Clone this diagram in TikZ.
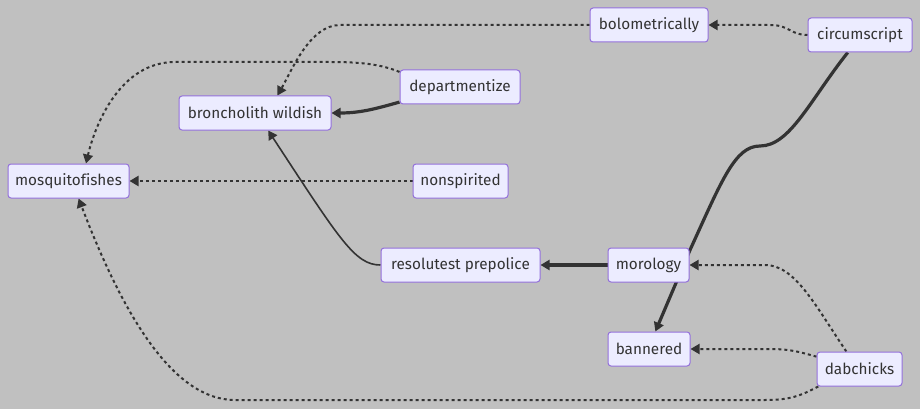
\documentclass[tikz,border=0pt]{standalone}
\usepackage{fontspec}
\setmainfont[Ligatures=NoCommon]{Fira Sans}
\usetikzlibrary{arrows.meta,backgrounds}
\definecolor{bg}{RGB}{192,192,192}
\definecolor{nfill}{RGB}{236,236,255}
\definecolor{nborder}{RGB}{147,112,219}
\definecolor{ink}{RGB}{51,51,51}
\tikzset{
  box/.style={draw=nborder, fill=nfill, line width=1pt, rounded corners=3pt,
    minimum height=34pt, inner sep=0pt, text=ink, font=\fontsize{15.3}{18}\selectfont},
  tip/.style={-{Triangle[length=9pt,width=10pt]}},
  dotedge/.style={tip, draw=ink, line width=2pt, dash pattern=on 3pt off 3pt},
  thickedge/.style={tip, draw=ink, line width=3.2pt},
  thinedge/.style={tip, draw=ink, line width=1.6pt},
}
\begin{document}
\begin{tikzpicture}[x=1pt,y=-1pt]
\useasboundingbox (0,0) rectangle (920,409);
\node[box, minimum width=118pt] (bolo) at (649,25) {bolometrically};
\node[box, minimum width=104pt] (circ) at (860,35) {circumscript};
\node[box, minimum width=120pt] (dept) at (460,87) {departmentize};
\node[box, minimum width=152pt] (bron) at (255,113) {broncholith wildish};
\node[box, minimum width=121pt] (mos) at (68.5,181) {mosquitofishes};
\node[box, minimum width=95pt] (nons) at (460.5,181) {nonspirited};
\node[box, minimum width=159pt] (res) at (460.5,265) {resolutest prepolice};
\node[box, minimum width=81pt] (mor) at (648.5,265) {morology};
\node[box, minimum width=82pt] (bann) at (649,349) {bannered};
\node[box, minimum width=85pt] (dab) at (859.5,369) {dabchicks};
\begin{scope}[on background layer]
\fill[bg] (0,0) rectangle (920,409);
% circumscript -> bolometrically
\draw[dotedge] (circ.west) .. controls (790,35) and (790,25) .. (770,25) -- (bolo.east);
% bolometrically -> broncholith wildish
\draw[dotedge] (bolo.west) -- (340,25) .. controls (310,25) and (292,70) .. (bron.38);
% departmentize -> mosquitofishes
\draw[dotedge] (dept.166) .. controls (380,64) and (360,62) .. (330,62) -- (175,62) .. controls (120,62) and (95,125) .. (mos.45);
% departmentize -> broncholith wildish
\draw[thickedge] (dept.194) .. controls (375,109) and (360,113) .. (bron.east);
% nonspirited -> mosquitofishes
\draw[dotedge] (nons.west) -- (mos.east);
% resolutest prepolice -> broncholith wildish
\draw[thinedge] (res.west) .. controls (355,265) and (340,240) .. (bron.307);
% morology -> resolutest prepolice
\draw[thickedge] (mor.west) -- (res.east);
% circumscript -> bannered
\draw[thickedge] (circ.235) .. controls (810,100) and (790,146) .. (760,146) .. controls (735,146) and (722,180) .. (690,250) -- (bann.70);
% dabchicks -> morology
\draw[dotedge] (dab.127) .. controls (815,305) and (795,265) .. (765,265) -- (mor.east);
% dabchicks -> bannered
\draw[dotedge] (dab.164) .. controls (800,352) and (790,349) .. (770,349) -- (bann.east);
% dabchicks -> mosquitofishes
\draw[dotedge] (dab.203) .. controls (800,396) and (790,400) .. (765,400) -- (235,400) .. controls (175,400) and (125,320) .. (mos.300);
\end{scope}
\end{tikzpicture}
\end{document}
